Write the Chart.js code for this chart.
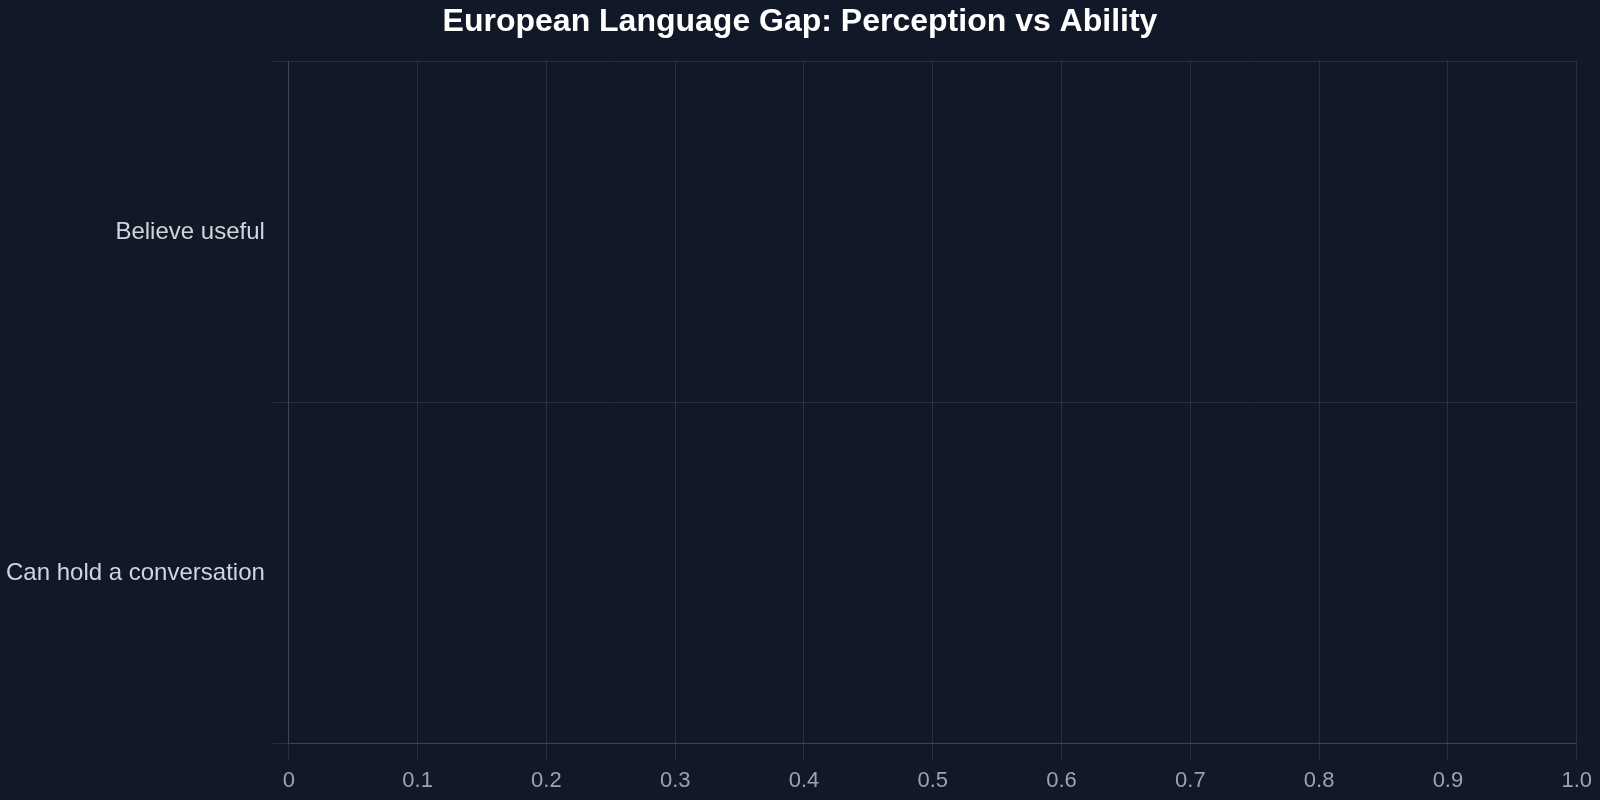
<!DOCTYPE html>
<html>
<head>
<meta charset="utf-8">
<script src="https://cdn.jsdelivr.net/npm/chart.js@4.4.1/dist/chart.umd.min.js"></script>
<style>
  html, body { margin: 0; padding: 0; background: #111827; }
  #wrap { width: 1600px; height: 800px; }
</style>
</head>
<body>
<div id="wrap"><canvas id="graficoGap"></canvas></div>
<script>
// categorias e valores (nenhuma barra aparece no original)
const categorias = ["Believe useful", "Can hold a conversation"];
const valores = [null, null];
const ticksX = [0, 0.1, 0.2, 0.3, 0.4, 0.5, 0.6, 0.7, 0.8, 0.9, 1.0];

const fonte = "'Liberation Sans', Arial, sans-serif";
const corGrade = "rgba(255, 255, 255, 0.1)";

const ctx = document.getElementById("graficoGap");

new Chart(ctx, {
  type: "bar",
  data: {
    labels: categorias,
    datasets: [
      {
        label: "Share",
        data: valores,
        backgroundColor: "rgba(96, 165, 250, 0.8)",
      },
    ],
  },
  options: {
    indexAxis: "y",
    responsive: true,
    maintainAspectRatio: false,
    animation: false,
    layout: { padding: { left: -2, right: -2, top: 0, bottom: -2 } },
    plugins: {
      legend: { display: false },
      tooltip: { enabled: false },
      title: {
        display: true,
        text: "European Language Gap: Perception vs Ability",
        color: "#ffffff",
        font: { family: fonte, size: 32, weight: "bold" },
        padding: { top: 3, bottom: 20 },
      },
    },
    scales: {
      x: {
        min: ticksX[0],
        max: ticksX[ticksX.length - 1],
        afterBuildTicks: (axis) => {
          axis.ticks = ticksX.map((v) => ({ value: v }));
        },
        ticks: {
          color: "#9ca3af",
          font: { family: fonte, size: 22 },
          padding: 8,
          callback: (v) => (v === 0 ? "0" : v.toFixed(1)),
        },
        grid: { color: corGrade, tickLength: 16 },
        border: { color: corGrade },
      },
      y: {
        ticks: {
          color: "#d1d5db",
          font: { family: fonte, size: 24 },
          padding: 8,
        },
        grid: { color: corGrade, tickLength: 16 },
        border: { color: corGrade },
      },
    },
  },
});
</script>
</body>
</html>
